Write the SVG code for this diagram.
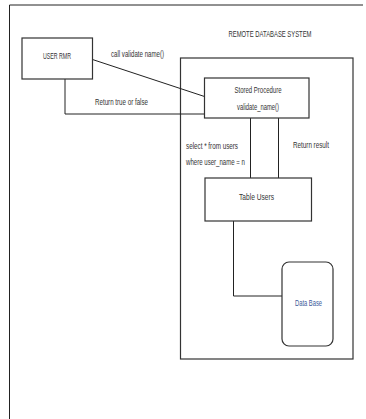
<svg xmlns="http://www.w3.org/2000/svg" width="366" height="419" viewBox="0 0 366 419">
<style>
.box{fill:#fff;stroke:#333;stroke-width:1.2}
.ln{fill:none;stroke:#222;stroke-width:1}
text{font-family:"Liberation Sans",Arial,sans-serif;font-size:9.5px;fill:#333}
.c{text-anchor:middle}
</style>
<rect width="366" height="419" fill="#fff"/>
<path class="ln" d="M9.5,419 V5 H363" stroke-width="1.3"/>
<g id="remote-system">
<rect class="box" x="180.5" y="58" width="172.5" height="301"/>
<text class="c" x="270" y="37" textLength="83" lengthAdjust="spacingAndGlyphs">REMOTE DATABASE SYSTEM</text>
</g>
<g id="connectors">
<line class="ln" x1="92.5" y1="59.5" x2="206" y2="97"/>
<path class="ln" d="M65,79 V114 H206"/>
<line class="ln" x1="250.5" y1="118" x2="250.5" y2="178"/>
<line class="ln" x1="278.5" y1="118" x2="278.5" y2="178"/>
<path class="ln" d="M233.5,221 V296 H282"/>
<text x="111" y="57" textLength="53" lengthAdjust="spacingAndGlyphs">call validate name()</text>
<text x="95" y="105" textLength="53" lengthAdjust="spacingAndGlyphs">Return true or false</text>
<text x="186" y="149" textLength="52" lengthAdjust="spacingAndGlyphs">select * from users</text>
<text x="186" y="165" textLength="59" lengthAdjust="spacingAndGlyphs">where user_name = n</text>
<text x="293" y="148" textLength="36" lengthAdjust="spacingAndGlyphs">Return result</text>
</g>
<g id="user-rmr">
<rect class="box" x="22" y="38" width="70.5" height="41"/>
<text class="c" x="57" y="59" textLength="28" lengthAdjust="spacingAndGlyphs">USER RMR</text>
</g>
<g id="stored-procedure">
<rect class="box" x="204.5" y="78" width="104.5" height="40"/>
<text class="c" x="258" y="93" textLength="47" lengthAdjust="spacingAndGlyphs">Stored Procedure</text>
<text class="c" x="258" y="110" textLength="42" lengthAdjust="spacingAndGlyphs">validate_name()</text>
</g>
<g id="table-users">
<rect class="box" x="205" y="178" width="106.5" height="43"/>
<text class="c" x="256.5" y="200" textLength="35" lengthAdjust="spacingAndGlyphs">Table Users</text>
</g>
<g id="data-base">
<rect class="box" x="282" y="262" width="51" height="84" rx="7"/>
<text class="c" x="308.5" y="306" textLength="27" lengthAdjust="spacingAndGlyphs" style="fill:#3a5a9a">Data Base</text>
</g>
</svg>
